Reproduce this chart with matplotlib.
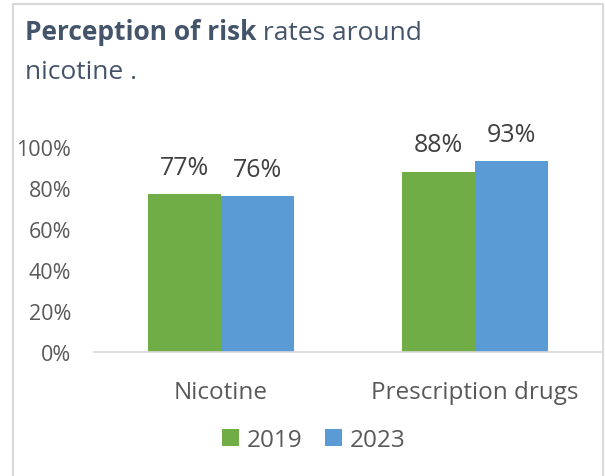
import matplotlib
matplotlib.use("Agg")
import matplotlib.pyplot as plt
from matplotlib.patches import Rectangle
import numpy as np

categories = ["Nicotine", "Prescription drugs"]
years = ["2019", "2023"]
values_2019 = [0.77, 0.88]
values_2023 = [0.76, 0.93]
yticks = [0, 0.2, 0.4, 0.6, 0.8, 1.0]
ytick_labels = ["0%", "20%", "40%", "60%", "80%", "100%"]

green = "#70AD47"
blue = "#5B9BD5"
grey_line = "#D9D9D9"
label_col = "#595959"
title_col = "#44546A"

plt.rcParams["font.family"] = ["Open Sans", "DejaVu Sans"]

W, H = 605, 477
fig = plt.figure(figsize=(W / 100, H / 100), dpi=100)

# outer frame
fig.patches.append(Rectangle((13 / W, -0.05), 590 / W, 1.05 - 5 / H,
                             transform=fig.transFigure, fill=False,
                             edgecolor=grey_line, linewidth=1.5))

ax = fig.add_axes([94 / W, 1 - 353 / H, 508 / W, 205 / H])

x = np.arange(len(categories))
bw = 0.287
b1 = ax.bar(x - bw / 2, values_2019, bw, color=green, label=years[0])
b2 = ax.bar(x + bw / 2, values_2023, bw, color=blue, label=years[1])

for bars, vals in [(b1, values_2019), (b2, values_2023)]:
    for b, v in zip(bars, vals):
        ax.annotate("%d%%" % round(v * 100), (b.get_x() + b.get_width() / 2, v),
                    xytext=(0, 14.5), textcoords="offset points",
                    ha="center", va="baseline", fontsize=18, color="#404040")

ax.set_xlim(-0.5, 1.5)
ax.set_ylim(0, 1.0)
ax.set_yticks(yticks)
ax.set_yticklabels(ytick_labels)
ax.set_xticks(x)
ax.set_xticklabels(categories)
ax.tick_params(axis="y", length=0, pad=16.5, labelsize=15.5, labelcolor=label_col)
ax.tick_params(axis="x", length=0, pad=20, labelsize=17.5, labelcolor=label_col)
for s in ["top", "right", "left"]:
    ax.spines[s].set_visible(False)
ax.spines["bottom"].set_color(grey_line)
ax.spines["bottom"].set_linewidth(1.2)
ax.patch.set_alpha(0)

leg = fig.legend(loc="center", bbox_to_anchor=(314 / W, 1 - 441 / H), ncol=2,
                 frameon=False, fontsize=17.5, labelcolor=label_col,
                 handlelength=0.68, handleheight=0.68, handletextpad=0.32,
                 columnspacing=0.95, borderpad=0)

# title with mixed weights
tsize = 19
t1 = fig.text(25 / W, 1 - 40.5 / H, "Perception of risk", fontsize=tsize,
              fontweight="bold", color=title_col, va="baseline")
fig.canvas.draw()
bb = t1.get_window_extent()
fig.text(bb.x1 / W, 1 - 40.5 / H, " rates around", fontsize=tsize,
         color=title_col, va="baseline")
fig.text(25 / W, 1 - 79 / H, "nicotine .", fontsize=tsize,
         color=title_col, va="baseline")

fig.savefig("out.png", dpi=100)
